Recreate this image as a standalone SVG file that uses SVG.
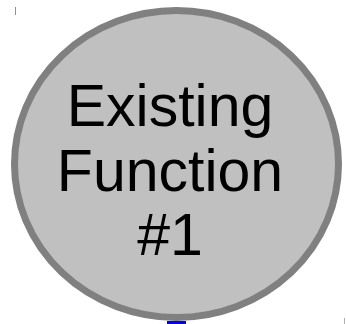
<svg xmlns="http://www.w3.org/2000/svg" width="346" height="324" viewBox="0 0 346 324">
<style>
.node{fill:#c0c0c0;stroke:#808080;stroke-width:7}
.lbl{font-family:"Liberation Sans",Arial,sans-serif;font-size:59px;fill:#000;text-anchor:middle}
</style>
<rect width="346" height="324" fill="#fff"/>
<line x1="15.5" y1="7" x2="15.5" y2="15" stroke="#909090" stroke-width="1"/>
<line x1="344.5" y1="318" x2="344.5" y2="324" stroke="#b0b0b0" stroke-width="1"/>
<g id="connectors"></g>
<g id="node1">
<ellipse class="node" cx="176.5" cy="164" rx="162" ry="153.5"/>
<text class="lbl" x="170" y="126">Existing</text>
<text class="lbl" x="170" y="191">Function</text>
<text class="lbl" x="170" y="255">#1</text>
</g>
<rect x="167" y="321" width="19" height="3" fill="#0000ff"/>
</svg>
